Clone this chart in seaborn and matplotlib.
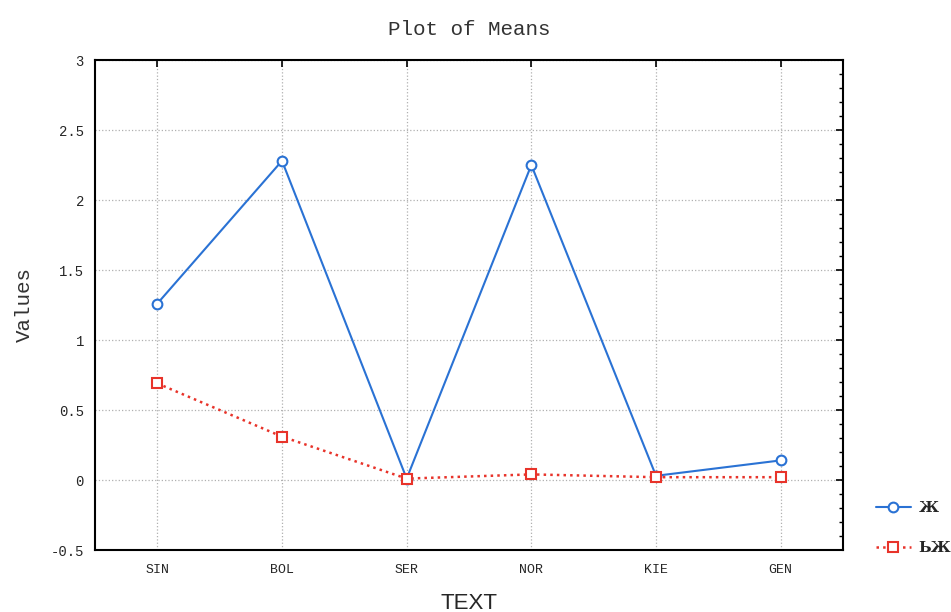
import pandas as pd
import matplotlib.pyplot as plt
import seaborn as sns
from matplotlib.ticker import MultipleLocator

# Data
categories = ['SIN', 'BOL', 'SER', 'NOR', 'KIE', 'GEN']
series_names = ['Ж', 'ЬЖ']
blue_values = [1.26, 2.28, 0.01, 2.25, 0.03, 0.14]
red_values = [0.69, 0.31, 0.01, 0.04, 0.02, 0.02]

blue_df = pd.DataFrame({'TEXT': categories, 'Values': blue_values})
red_df = pd.DataFrame({'TEXT': categories, 'Values': red_values})

sns.set_style('white')
plt.rcParams['font.family'] = ['Liberation Mono', 'DejaVu Sans']

fig = plt.figure(figsize=(9.51, 6.12), dpi=100)
ax = fig.add_axes([95 / 951, 1 - 550 / 612, 748 / 951, 490 / 612])

blue, red = '#2a72d4', '#e8332a'
sns.lineplot(data=blue_df, x='TEXT', y='Values', sort=False, color=blue,
             linestyle='-', linewidth=1.5, marker='o', markersize=7,
             markerfacecolor='white', markeredgecolor=blue, markeredgewidth=1.5,
             label=series_names[0], ax=ax)
sns.lineplot(data=red_df, x='TEXT', y='Values', sort=False, color=red,
             linestyle=':', linewidth=1.8, marker='s', markersize=7,
             markerfacecolor='white', markeredgecolor=red, markeredgewidth=1.5,
             label=series_names[1], ax=ax)

# Axes formatting
ax.set_xlim(-0.5, 5.5)
ax.set_ylim(-0.5, 3)
ax.yaxis.set_major_locator(MultipleLocator(0.5))
ax.yaxis.set_minor_locator(MultipleLocator(0.1))
ax.set_yticklabels([f'{v:g}' for v in ax.get_yticks()])
ax.grid(True, which='major', linestyle=':', color='#b0b0b0', linewidth=0.9)
ax.tick_params(axis='both', which='both', direction='in', top=True, right=True,
               color='black')
ax.tick_params(axis='both', which='major', length=5, width=1.2)
ax.tick_params(axis='y', which='minor', length=3, width=1)
ax.tick_params(axis='x', labelsize=9.5, pad=10)
ax.tick_params(axis='y', labelsize=10, pad=8)
for s in ax.spines.values():
    s.set_color('black')
    s.set_linewidth(1.5)

ax.set_title('Plot of Means', fontsize=15, pad=18, color='#333333')
ax.set_ylabel('Values', fontsize=15, labelpad=12, color='#333333')
ax.set_xlabel('TEXT', fontsize=16, family='Liberation Sans', labelpad=12)

# Legend at the right edge of the figure
ax.legend(loc='center left', bbox_to_anchor=(862 / 951, 1 - 528 / 612),
          bbox_transform=fig.transFigure, frameon=False,
          handlelength=2.3, labelspacing=1.7, handletextpad=0.5,
          prop={'family': 'DejaVu Serif', 'weight': 'bold', 'size': 11})

fig.savefig('out.png', dpi=100)
